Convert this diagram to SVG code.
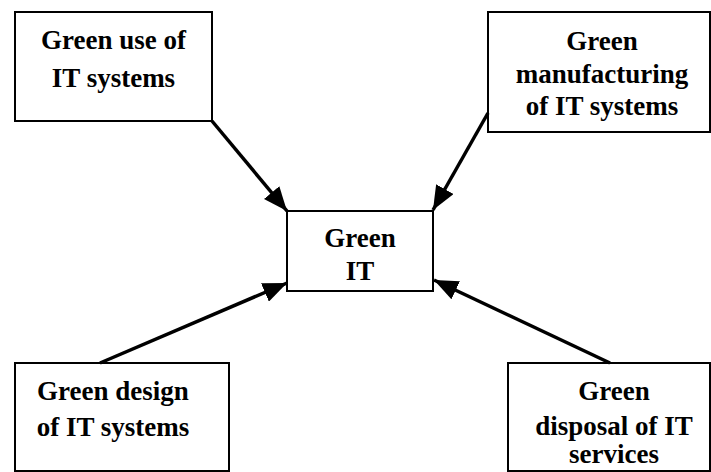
<svg xmlns="http://www.w3.org/2000/svg" width="711" height="472" viewBox="0 0 711 472">
<style>
.box{fill:#fff;stroke:#000;stroke-width:2}
.t{font-family:'Liberation Serif','DejaVu Serif',serif;font-weight:700;font-size:27px;fill:#000;text-anchor:middle}
.c{stroke:#000;stroke-width:3.5;fill:none;marker-end:url(#ah)}
</style>
<defs>
<marker id="ah" markerUnits="userSpaceOnUse" markerWidth="24" markerHeight="20" viewBox="0 0 24 20" refX="24" refY="10" orient="auto">
<path d="M0,0 L24,10 L0,20 Z" fill="#000"/>
</marker>
</defs>
<rect width="711" height="472" fill="#fff"/>
<g id="n-use">
<rect class="box" x="15" y="12" width="197" height="109"/>
<text class="t" x="113.5" y="49">Green use of</text>
<text class="t" x="113.5" y="87">IT systems</text>
</g>
<g id="n-manufacturing">
<rect class="box" x="488" y="12" width="222" height="120"/>
<text class="t" x="602" y="50">Green</text>
<text class="t" x="602" y="83">manufacturing</text>
<text class="t" x="602" y="115">of IT systems</text>
</g>
<g id="n-green-it">
<rect class="box" x="287" y="211" width="146" height="80"/>
<text class="t" x="360" y="247">Green</text>
<text class="t" x="360" y="280">IT</text>
</g>
<g id="n-design">
<rect class="box" x="15" y="363" width="214" height="108"/>
<text class="t" x="113" y="400">Green design</text>
<text class="t" x="113" y="436">of IT systems</text>
</g>
<g id="n-disposal">
<rect class="box" x="508" y="363" width="202" height="108"/>
<text class="t" x="614" y="400">Green</text>
<text class="t" x="614" y="435">disposal of IT</text>
<text class="t" x="614" y="463">services</text>
</g>
<g id="connectors">
<line class="c" x1="212" y1="121" x2="287" y2="211"/>
<line class="c" x1="488" y1="113" x2="433" y2="210"/>
<line class="c" x1="100" y1="363" x2="287" y2="283"/>
<line class="c" x1="610" y1="363" x2="434" y2="280"/>
</g>
</svg>
